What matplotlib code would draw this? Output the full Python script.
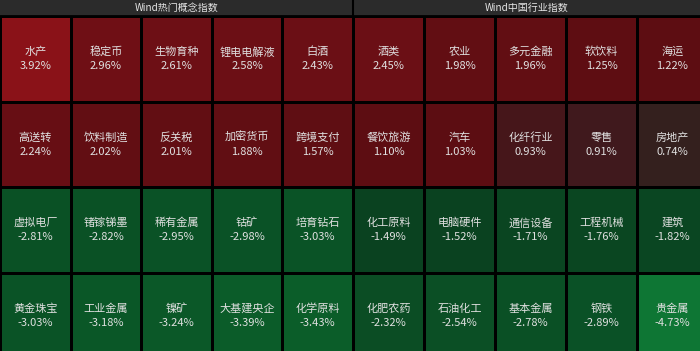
import numpy as np
import matplotlib
matplotlib.use('Agg')
import matplotlib.pyplot as plt

plt.rcParams['font.family'] = ['Noto Sans CJK SC', 'DejaVu Sans']

# panel titles
titles = ['Wind热门概念指数', 'Wind中国行业指数']

# concept indices (left), row by row
concept_names = ['水产', '稳定币', '生物育种', '锂电电解液', '白酒',
                 '高送转', '饮料制造', '反关税', '加密货币', '跨境支付',
                 '虚拟电厂', '锗镓锑墨', '稀有金属', '钴矿', '培育钻石',
                 '黄金珠宝', '工业金属', '镍矿', '大基建央企', '化学原料']
concept_chg = [3.92, 2.96, 2.61, 2.58, 2.43,
               2.24, 2.02, 2.01, 1.88, 1.57,
               -2.81, -2.82, -2.95, -2.98, -3.03,
               -3.03, -3.18, -3.24, -3.39, -3.43]

# industry indices (right)
industry_names = ['酒类', '农业', '多元金融', '软饮料', '海运',
                  '餐饮旅游', '汽车', '化纤行业', '零售', '房地产',
                  '化工原料', '电脑硬件', '通信设备', '工程机械', '建筑',
                  '化肥农药', '石油化工', '基本金属', '钢铁', '贵金属']
industry_chg = [2.45, 1.98, 1.96, 1.25, 1.22,
                1.10, 1.03, 0.93, 0.91, 0.74,
                -1.49, -1.52, -1.71, -1.76, -1.82,
                -2.32, -2.54, -2.78, -2.89, -4.73]

# colour scale: value -> rgb
stops_v = [-4.73, -3.4, -3.0, -2.3, -1.5, 0.0, 0.9, 1.0, 2.0, 2.5, 3.0, 3.92]
stops_c = ['#0e7634', '#0b5c29', '#0a5226', '#0b4d24', '#0a4220', '#0a3c1e',
           '#3d1a1e', '#5c0d12', '#620e13', '#6c0f15', '#6f0f15', '#8a1218']
stops_rgb = np.array([matplotlib.colors.to_rgb(c) for c in stops_c])


def cell_color(v):
    return [np.interp(v, stops_v, stops_rgb[:, k]) for k in range(3)]


W, H = 700, 351
head = 16
fig = plt.figure(figsize=(W / 100, H / 100), dpi=100)
fig.patch.set_facecolor('#000000')

split = 353

# header bar
hax = fig.add_axes([0, 1 - head / H, 1, head / H])
hax.set_xlim(0, W)
hax.set_ylim(0, 1)
hax.set_facecolor('#2b2b2b')
hax.set_xticks([])
hax.set_yticks([])
for s in hax.spines.values():
    s.set_visible(False)
hax.axvline(split, color='#000000', lw=1.5)
hax.axhline(0, color='#000000', lw=2)
hax.text(split / 2, 0.5, titles[0], ha='center', va='center', color='#e6e6e6', fontsize=7.2)
hax.text((split + W) / 2, 0.5, titles[1], ha='center', va='center', color='#e6e6e6', fontsize=7.2)

panels = [(concept_names, concept_chg, 0, split, 5.0),
          (industry_names, industry_chg, split, W, (W - split) / 71.0)]
nrows, ncols = 4, 5
row_h = 85.5
for names, chg, x0, x1, xmax in panels:
    ax = fig.add_axes([x0 / W, 0, (x1 - x0) / W, (H - head) / H])
    vals = np.array(chg).reshape(nrows, ncols)
    rgb = np.array([[cell_color(v) for v in row] for row in vals])
    ax.pcolormesh(np.arange(ncols + 1), np.arange(nrows + 1), rgb,
                  edgecolors='#000000', linewidth=1.0)
    ax.set_xlim(0, xmax)
    ax.set_ylim((H - head) / row_h, 0)
    for k, (n, v) in enumerate(zip(names, chg)):
        r, c = divmod(k, ncols)
        ax.text(c + 0.5, r + 0.5 - 0.08, n, ha='center', va='center',
                color='#e0e0e0', fontsize=8)
        ax.text(c + 0.5, r + 0.5 + 0.085, f'{v:.2f}%', ha='center', va='center',
                color='#e0e0e0', fontsize=8)
    ax.axis('off')

fig.savefig('out.png', dpi=100, facecolor=fig.get_facecolor())
